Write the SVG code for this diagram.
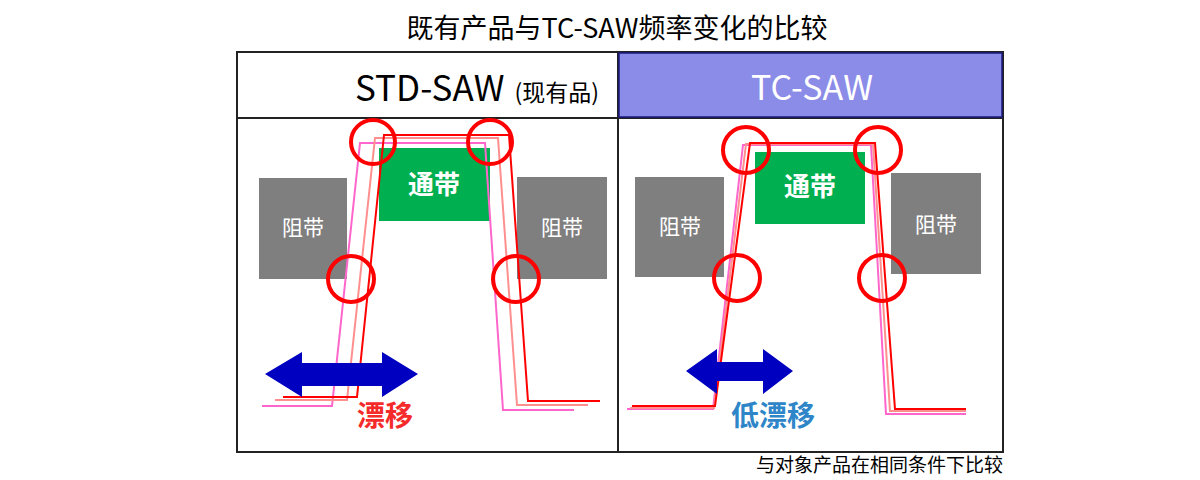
<svg xmlns="http://www.w3.org/2000/svg" width="1200" height="480" viewBox="0 0 1200 480">
<style>
text{font-family:"Noto Sans CJK SC","Noto Sans",sans-serif}
.stop{fill:#7f7f7f}
.pass{fill:#00b050}
.bl{fill:#fff;font-size:21px;text-anchor:middle}
.pl{fill:#fff;font-size:26px;font-weight:bold;text-anchor:middle}
.circ{fill:none;stroke:#ff0000;stroke-width:4}
.cr{fill:none;stroke:#ff0000;stroke-width:2}
.cs{fill:none;stroke:#ff8f8f;stroke-width:2}
.cp{fill:none;stroke:#ff66cc;stroke-width:2}
.arr{fill:#0000c0}
</style>
<rect width="1200" height="480" fill="#fff"/>
<text x="617" y="38" font-size="27" text-anchor="middle" fill="#000">既有产品与TC-SAW频率变化的比较</text>
<g id="frame">
<rect x="237" y="52" width="766" height="400" fill="none" stroke="#222" stroke-width="2"/>
<line x1="237" y1="118" x2="1003" y2="118" stroke="#222" stroke-width="2"/>
<line x1="618" y1="52" x2="618" y2="452" stroke="#222" stroke-width="2"/>
</g>
<g id="header-std">
<text x="355" y="101" font-size="35" fill="#000">STD-SAW<tspan font-size="23" dx="10">(现有品)</tspan></text>
</g>
<g id="header-tc">
<rect x="619" y="53" width="383" height="64" fill="#8b8be8" stroke="#1a1a80" stroke-width="1.5"/>
<text x="812" y="100" font-size="34" fill="#fff" text-anchor="middle">TC-SAW</text>
</g>
<g id="std-stop-left"><rect class="stop" x="259" y="178" width="88" height="101"/><text class="bl" x="303" y="235">阻带</text></g>
<g id="std-pass"><rect class="pass" x="379" y="148" width="111" height="73"/><text class="pl" x="434" y="194">通带</text></g>
<g id="std-stop-right"><rect class="stop" x="517" y="177" width="90" height="102"/><text class="bl" x="562" y="235">阻带</text></g>
<g id="tc-stop-left"><rect class="stop" x="635" y="177" width="89" height="100"/><text class="bl" x="680" y="234">阻带</text></g>
<g id="tc-pass"><rect class="pass" x="755" y="152" width="110" height="72"/><text class="pl" x="810" y="196">通带</text></g>
<g id="tc-stop-right"><rect class="stop" x="891" y="173" width="90" height="101"/><text class="bl" x="936" y="232">阻带</text></g>
<g id="connectors">
<polyline class="cp" points="262,406 332,406 360,143 485,143 503,410 574,410"/>
<polyline class="cs" points="275,400 347,400 375,138 498,138 517,405 588,405"/>
<polyline class="cr" points="283,397 357,397 384,135 509,135 528,401 600,401"/>
<polyline class="cp" points="627,409 713,409 743,145 871,145 886,414 966,414"/>
<polyline class="cs" points="630,408 714,408 746,144 873,144 890,411 966,411"/>
<polyline class="cr" points="632,406 715,406 750,143 875,143 895,409 966,409"/>
</g>
<g id="std-circles">
<circle class="circ" cx="373" cy="142" r="22"/>
<circle class="circ" cx="490" cy="142" r="22"/>
<circle class="circ" cx="351" cy="279" r="23"/>
<circle class="circ" cx="516" cy="279" r="23"/>
</g>
<g id="tc-circles">
<circle class="circ" cx="746" cy="150" r="23"/>
<circle class="circ" cx="878" cy="150" r="23"/>
<circle class="circ" cx="737" cy="278" r="23"/>
<circle class="circ" cx="882" cy="278" r="23"/>
</g>
<g id="std-arrow"><polygon class="arr" points="265,374 302,352 302,363 382,363 382,352 418,374 382,397 382,386 302,386 302,397"/></g>
<g id="tc-arrow"><polygon class="arr" points="686,371 717,349 717,362 763,362 763,349 793,371 763,394 763,381 717,381 717,394"/></g>
<text x="385" y="426" font-size="28" font-weight="bold" fill="#f52a2a" text-anchor="middle">漂移</text>
<text x="773" y="426" font-size="28" font-weight="bold" fill="#2e86c8" text-anchor="middle">低漂移</text>
<text x="1003" y="472" font-size="19" fill="#000" text-anchor="end">与对象产品在相同条件下比较</text>
</svg>
